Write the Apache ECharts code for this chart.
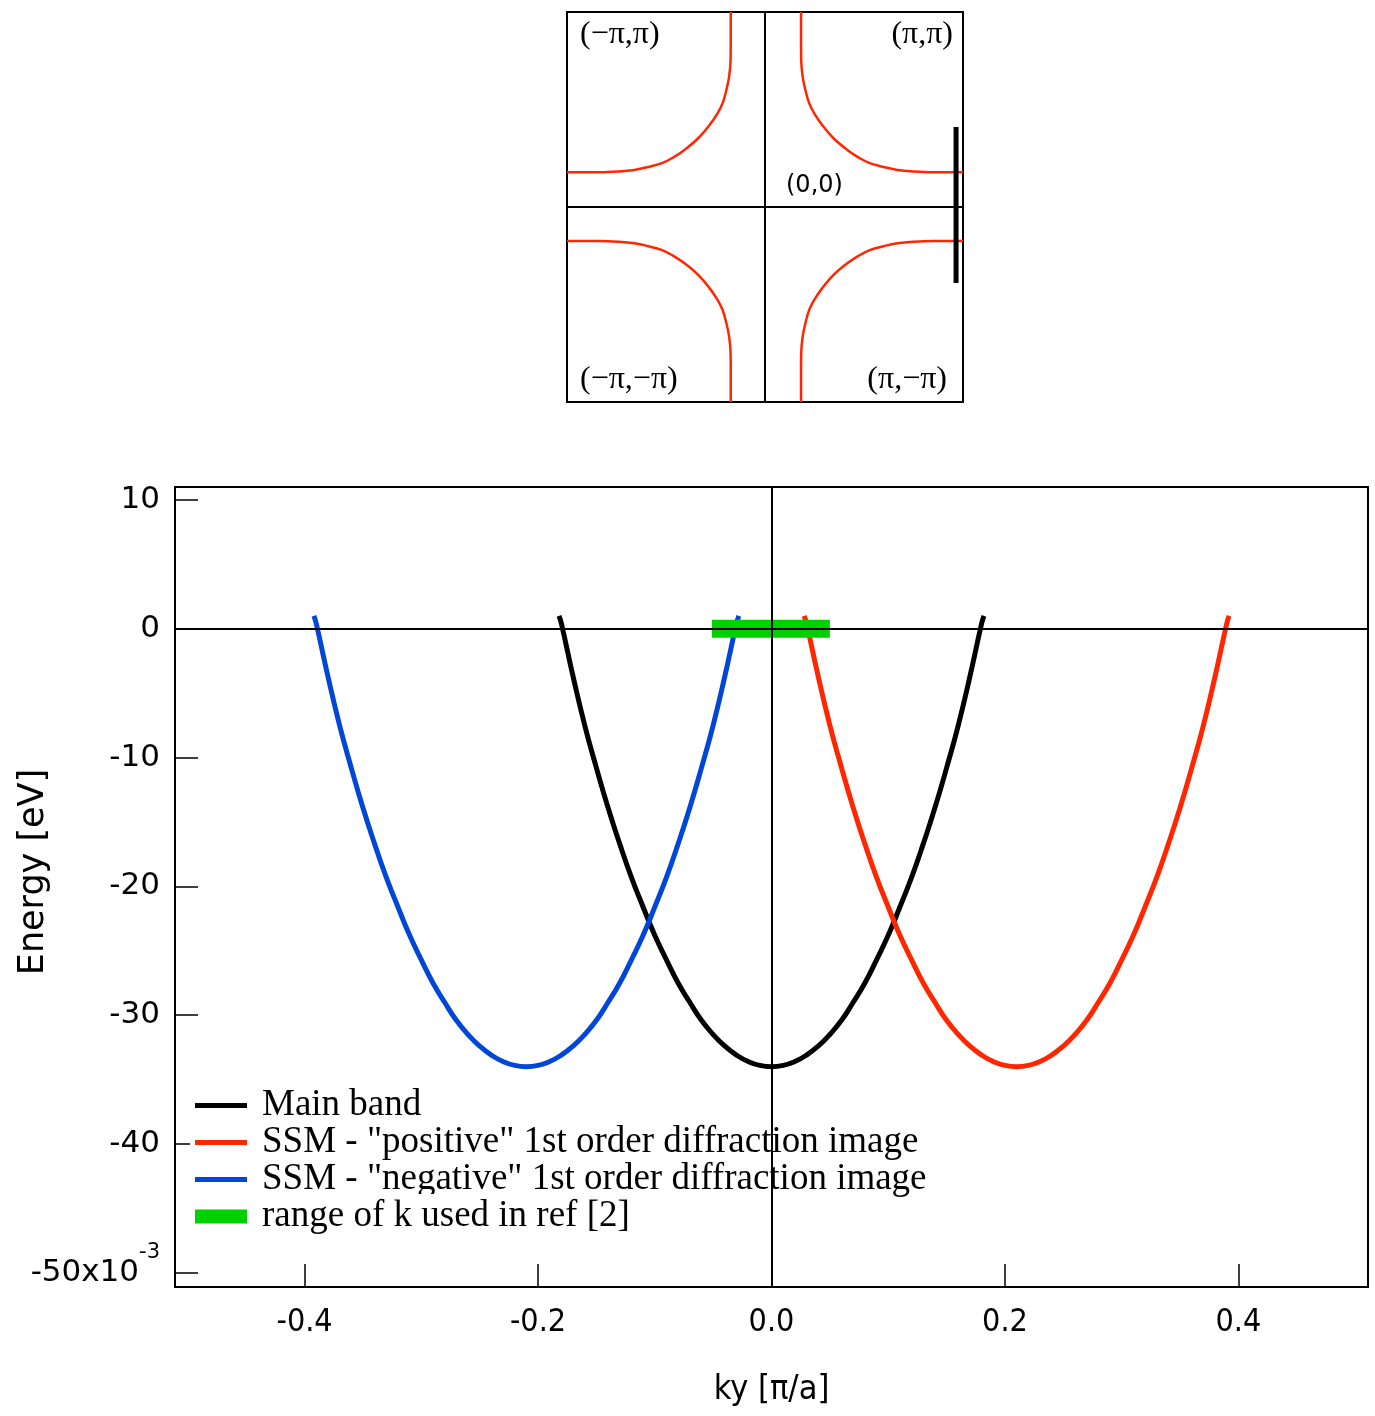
<!DOCTYPE html>
<html>
<head>
<meta charset="utf-8">
<script src="https://cdn.jsdelivr.net/npm/echarts@6/dist/echarts.min.js"></script>
<style>
html,body{margin:0;padding:0;background:#fff;}
#chart{width:1375px;height:1416px;}
</style>
</head>
<body>
<div id="chart"></div>
<script>
// ---------------- data (main panel, energy in 10^-3 eV) ----------------
const mainBandK = [-0.182,-0.18,-0.17,-0.16,-0.15,-0.14,-0.13,-0.12,-0.11,-0.10,-0.09,-0.08,-0.07,-0.06,-0.05,-0.04,-0.03,-0.02,-0.01,0,
                   0.01,0.02,0.03,0.04,0.05,0.06,0.07,0.08,0.09,0.10,0.11,0.12,0.13,0.14,0.15,0.16,0.17,0.18,0.182];
const mainBandE = [1.0,0.4,-3.7,-7.5,-10.8,-13.9,-16.7,-19.3,-21.6,-23.8,-25.7,-27.5,-29.0,-30.4,-31.5,-32.4,-33.1,-33.6,-33.9,-34.0,
                   -33.9,-33.6,-33.1,-32.4,-31.5,-30.4,-29.0,-27.5,-25.7,-23.8,-21.6,-19.3,-16.7,-13.9,-10.8,-7.5,-3.7,0.4,1.0];

const positiveK = [0.028,0.03,0.04,0.05,0.06,0.07,0.08,0.09,0.10,0.11,0.12,0.13,0.14,0.15,0.16,0.17,0.18,0.19,0.20,0.21,
                   0.22,0.23,0.24,0.25,0.26,0.27,0.28,0.29,0.30,0.31,0.32,0.33,0.34,0.35,0.36,0.37,0.38,0.39,0.392];
const positiveE = [1.0,0.4,-3.7,-7.5,-10.8,-13.9,-16.7,-19.3,-21.6,-23.8,-25.7,-27.5,-29.0,-30.4,-31.5,-32.4,-33.1,-33.6,-33.9,-34.0,
                   -33.9,-33.6,-33.1,-32.4,-31.5,-30.4,-29.0,-27.5,-25.7,-23.8,-21.6,-19.3,-16.7,-13.9,-10.8,-7.5,-3.7,0.4,1.0];

const negativeK = [-0.392,-0.39,-0.38,-0.37,-0.36,-0.35,-0.34,-0.33,-0.32,-0.31,-0.30,-0.29,-0.28,-0.27,-0.26,-0.25,-0.24,-0.23,-0.22,-0.21,
                   -0.20,-0.19,-0.18,-0.17,-0.16,-0.15,-0.14,-0.13,-0.12,-0.11,-0.10,-0.09,-0.08,-0.07,-0.06,-0.05,-0.04,-0.03,-0.028];
const negativeE = [1.0,0.4,-3.7,-7.5,-10.8,-13.9,-16.7,-19.3,-21.6,-23.8,-25.7,-27.5,-29.0,-30.4,-31.5,-32.4,-33.1,-33.6,-33.9,-34.0,
                   -33.9,-33.6,-33.1,-32.4,-31.5,-30.4,-29.0,-27.5,-25.7,-23.8,-21.6,-19.3,-16.7,-13.9,-10.8,-7.5,-3.7,0.4,1.0];

const rangeK = [-0.051, 0.050];
const rangeE = [0, 0];

const seriesNames = [
  'Main band',
  'SSM - "positive" 1st order diffraction image',
  'SSM - "negative" 1st order diffraction image',
  'range of k used in ref [2]'
];

const xTickValues = [-0.4, -0.2, 0, 0.2, 0.4];
const yTickValues = [-50, -40, -30, -20, -10, 0, 10];

// ---------------- data (inset Fermi surface, units of π/a) ----------------
const fsUpperRightX = [0.182,0.182,0.183,0.190,0.204,0.224,0.252,0.289,0.349,0.419,0.474,0.529,0.599,0.669,0.749,0.849,1.0];
const fsUpperRightY = [1.0,0.85,0.75,0.67,0.60,0.53,0.475,0.42,0.35,0.29,0.253,0.225,0.205,0.19,0.182,0.178,0.178];
const fsUpperLeftX  = [-0.173,-0.173,-0.174,-0.181,-0.195,-0.215,-0.243,-0.280,-0.340,-0.410,-0.465,-0.520,-0.590,-0.660,-0.740,-0.840,-1.0];
const fsUpperLeftY  = [1.0,0.85,0.75,0.67,0.60,0.53,0.475,0.42,0.35,0.29,0.253,0.225,0.205,0.19,0.182,0.178,0.178];
const fsLowerLeftX  = [-1.0,-0.840,-0.740,-0.660,-0.590,-0.520,-0.465,-0.410,-0.340,-0.280,-0.243,-0.215,-0.195,-0.181,-0.174,-0.173,-0.173];
const fsLowerLeftY  = [-0.174,-0.174,-0.178,-0.186,-0.201,-0.221,-0.249,-0.286,-0.346,-0.416,-0.471,-0.526,-0.596,-0.666,-0.746,-0.846,-1.0];
const fsLowerRightX = [0.182,0.182,0.183,0.190,0.204,0.224,0.252,0.289,0.349,0.419,0.474,0.529,0.599,0.669,0.749,0.849,1.0];
const fsLowerRightY = [-1.0,-0.846,-0.746,-0.666,-0.596,-0.526,-0.471,-0.416,-0.346,-0.286,-0.249,-0.221,-0.201,-0.186,-0.178,-0.174,-0.174];
const cutKx = [0.965, 0.965];
const cutKy = [0.41, -0.39];

const insetLabels = ['(−π,π)', '(π,π)', '(−π,−π)', '(π,−π)', '(0,0)'];

// ---------------- helpers ----------------
const zip = (a, b) => a.map((v, i) => [v, b[i]]);

const C_BLACK = '#000000';
const C_RED = '#ff2600';
const C_BLUE = '#0046d8';
const C_GREEN = '#00d000';

const legendText = {
  fontFamily: "'Liberation Serif', 'Times New Roman', serif",
  fontSize: 37, color: '#000', lineHeight: 37, padding: [0, 0, 0, 10]
};
const serifFont = "32px 'Liberation Serif', serif";

const chart = echarts.init(document.getElementById('chart'), null, {renderer: 'canvas'});

const option = {
  animation: false,
  backgroundColor: '#ffffff',
  grid: [
    {left: 175, top: 487, width: 1193, height: 800, show: true, borderColor: '#000', borderWidth: 2,
     backgroundColor: 'transparent', containLabel: false, outerBoundsMode: 'none'},
    {left: 567, top: 12, width: 396, height: 390, show: true, borderColor: '#000', borderWidth: 2,
     backgroundColor: 'transparent', containLabel: false, outerBoundsMode: 'none'}
  ],
  xAxis: [
    {
      gridIndex: 0, type: 'value', min: -0.511, max: 0.511,
      axisLine: {show: false, onZero: false},
      splitLine: {show: false},
      axisTick: {show: true, inside: true, length: 23, customValues: xTickValues, lineStyle: {color: '#000', width: 1.5}},
      axisLabel: {
        show: true, customValues: xTickValues, margin: 20,
        formatter: v => v.toFixed(1),
        fontFamily: "'Liberation Sans Narrow', 'DejaVu Sans Condensed', 'Liberation Sans', sans-serif",
        fontSize: 32, color: '#000'
      },
      name: 'ky [π/a]', nameLocation: 'middle', nameGap: 86, nameMoveOverlap: false,
      nameTextStyle: {fontFamily: "'Liberation Sans Narrow', 'DejaVu Sans Condensed', 'Liberation Sans', sans-serif", fontSize: 34, color: '#000'}
    },
    {gridIndex: 1, type: 'value', min: -1, max: 1, show: false}
  ],
  yAxis: [
    {
      gridIndex: 0, type: 'value', min: -51.1, max: 11.0,
      axisLine: {show: false, onZero: false},
      splitLine: {show: false},
      axisTick: {show: true, inside: true, length: 23, customValues: yTickValues, lineStyle: {color: '#000', width: 1.5}},
      axisLabel: {
        show: true, customValues: yTickValues, margin: 15,
        formatter: v => (v === -50 ? '-50x10{sup|-3}' : String(v)),
        fontFamily: "'DejaVu Sans', sans-serif", fontSize: 31, color: '#000',
        rich: {sup: {fontFamily: "'DejaVu Sans', sans-serif", fontSize: 21, color: '#000', verticalAlign: 'top', padding: [0, 0, 40, 0]}}
      },
      name: 'Energy [eV]', nameLocation: 'middle', nameGap: 124, nameRotate: 90, nameMoveOverlap: false,
      nameTextStyle: {fontFamily: "'DejaVu Sans', sans-serif", fontSize: 35, color: '#000', padding: [0, 0, 0, 30]}
    },
    {gridIndex: 1, type: 'value', min: -1, max: 1, show: false}
  ],
  legend: [
    {
      data: [
        {name: seriesNames[0], icon: 'rect'},
        {name: seriesNames[1], icon: 'rect'},
        {name: seriesNames[2], icon: 'rect'}
      ],
      orient: 'vertical', left: 190, top: 1083,
      itemWidth: 52, itemHeight: 5, itemGap: 0,
      padding: [4, 8, 41, 5],
      backgroundColor: '#ffffff',
      itemStyle: {borderWidth: 0},
      textStyle: legendText,
      selectedMode: false, z: 4
    },
    {
      data: [{name: seriesNames[3], icon: 'rect'}],
      orient: 'vertical', left: 190, top: 1194,
      itemWidth: 52, itemHeight: 14, itemGap: 0,
      padding: [4, 8, 4, 5],
      backgroundColor: '#ffffff',
      itemStyle: {borderWidth: 0},
      textStyle: legendText,
      selectedMode: false, z: 5
    }
  ],
  series: [
    {
      type: 'line', name: '__zero', xAxisIndex: 0, yAxisIndex: 0, z: 1,
      data: [[0, 0]], showSymbol: false, symbol: 'none', lineStyle: {opacity: 0}, silent: true,
      markLine: {
        silent: true, symbol: ['none', 'none'], label: {show: false}, animation: false,
        lineStyle: {color: '#000', width: 2, type: 'solid'},
        emphasis: {disabled: true},
        data: [{xAxis: 0}, {yAxis: 0}]
      }
    },
    {
      type: 'line', name: seriesNames[0], xAxisIndex: 0, yAxisIndex: 0, z: 2,
      data: zip(mainBandK, mainBandE), smooth: true, symbol: 'none', showSymbol: false,
      color: C_BLACK, lineStyle: {color: C_BLACK, width: 5}
    },
    {
      type: 'line', name: seriesNames[1], xAxisIndex: 0, yAxisIndex: 0, z: 2,
      data: zip(positiveK, positiveE), smooth: true, symbol: 'none', showSymbol: false,
      color: C_RED, lineStyle: {color: C_RED, width: 5}
    },
    {
      type: 'line', name: seriesNames[2], xAxisIndex: 0, yAxisIndex: 0, z: 2,
      data: zip(negativeK, negativeE), smooth: true, symbol: 'none', showSymbol: false,
      color: C_BLUE, lineStyle: {color: C_BLUE, width: 5}
    },
    {
      type: 'line', name: seriesNames[3], xAxisIndex: 0, yAxisIndex: 0, z: 3,
      data: zip(rangeK, rangeE), symbol: 'none', showSymbol: false,
      color: C_GREEN, lineStyle: {color: C_GREEN, width: 18, cap: 'butt'}
    },
    // inset
    {
      type: 'line', name: '__insetZero', xAxisIndex: 1, yAxisIndex: 1, z: 1,
      data: [[0, 0]], showSymbol: false, symbol: 'none', lineStyle: {opacity: 0}, silent: true,
      markLine: {
        silent: true, symbol: ['none', 'none'], label: {show: false}, animation: false,
        lineStyle: {color: '#000', width: 2, type: 'solid'},
        emphasis: {disabled: true},
        data: [{xAxis: 0}, {yAxis: 0}]
      }
    },
    {type: 'line', name: '__fs1', xAxisIndex: 1, yAxisIndex: 1, data: zip(fsUpperRightX, fsUpperRightY), smooth: 0.4, symbol: 'none', lineStyle: {color: C_RED, width: 2.5}, silent: true},
    {type: 'line', name: '__fs2', xAxisIndex: 1, yAxisIndex: 1, data: zip(fsUpperLeftX, fsUpperLeftY), smooth: 0.4, symbol: 'none', lineStyle: {color: C_RED, width: 2.5}, silent: true},
    {type: 'line', name: '__fs3', xAxisIndex: 1, yAxisIndex: 1, data: zip(fsLowerLeftX, fsLowerLeftY), smooth: 0.4, symbol: 'none', lineStyle: {color: C_RED, width: 2.5}, silent: true},
    {type: 'line', name: '__fs4', xAxisIndex: 1, yAxisIndex: 1, data: zip(fsLowerRightX, fsLowerRightY), smooth: 0.4, symbol: 'none', lineStyle: {color: C_RED, width: 2.5}, silent: true},
    {type: 'line', name: '__cut', xAxisIndex: 1, yAxisIndex: 1, z: 3, data: zip(cutKx, cutKy), symbol: 'none', lineStyle: {color: '#000', width: 5}, silent: true}
  ],
  graphic: [
    {type: 'text', left: 580, top: 19, style: {text: insetLabels[0], font: serifFont, fill: '#000'}},
    {type: 'text', right: 1375 - 953, top: 19, style: {text: insetLabels[1], font: serifFont, fill: '#000'}},
    {type: 'text', left: 580, top: 364, style: {text: insetLabels[2], font: serifFont, fill: '#000'}},
    {type: 'text', right: 1375 - 947, top: 364, style: {text: insetLabels[3], font: serifFont, fill: '#000'}},
    {type: 'text', left: 786, top: 174, style: {text: insetLabels[4], font: "24px 'DejaVu Sans', sans-serif", fill: '#000'}}
  ]
};

chart.setOption(option);
</script>
</body>
</html>
